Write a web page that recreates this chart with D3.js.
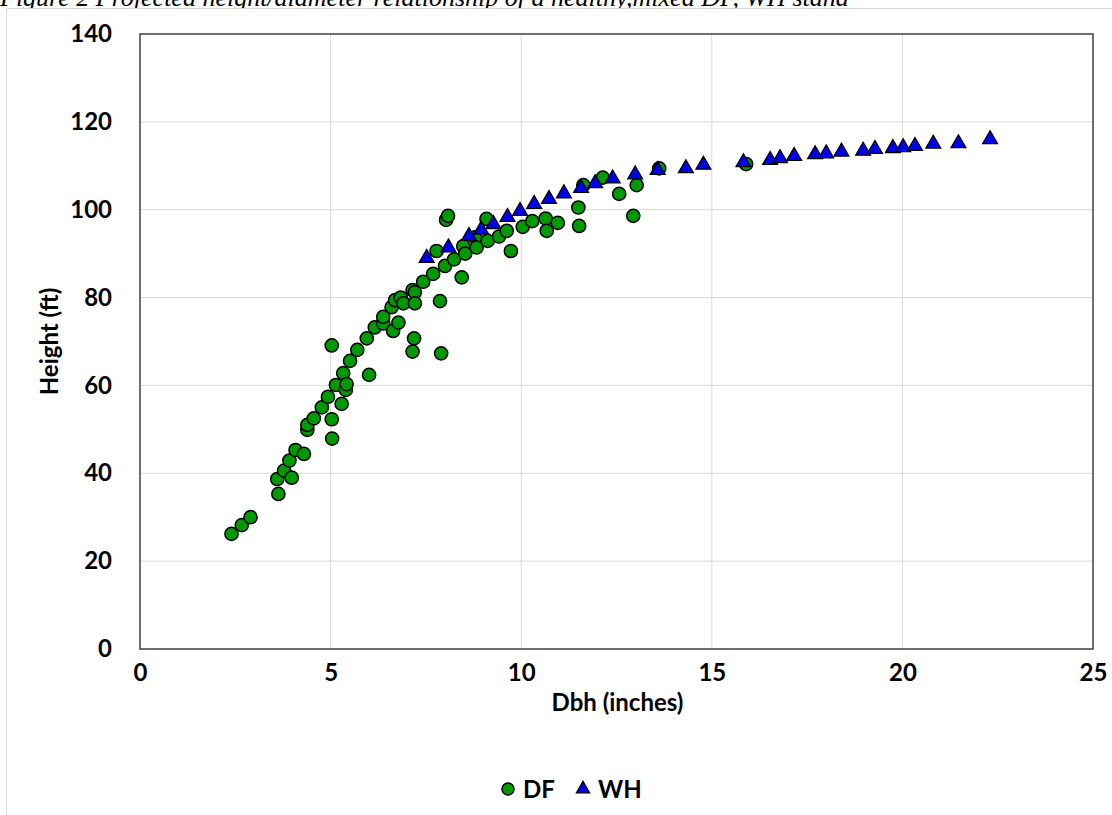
<!DOCTYPE html>
<html>
<head>
<meta charset="utf-8">
<script src="https://cdn.jsdelivr.net/npm/d3@7"></script>
<style>
  html, body { margin: 0; padding: 0; background: #fff; overflow: hidden; }
  svg { display: block; }
</style>
</head>
<body>
<svg id="chart" width="1112" height="815"></svg>
<script>
// Douglas-fir (DF) tree measurements: [dbh inches, height ft]
const dfPoints = [
  [2.40, 26.2], [2.67, 28.2], [2.90, 30.0], [3.63, 35.3], [3.60, 38.7],
  [3.78, 40.6], [3.92, 42.9], [3.98, 39.0], [4.08, 45.3], [4.30, 44.4],
  [4.39, 49.9], [4.39, 51.0], [4.56, 52.5], [4.77, 55.0], [4.93, 57.4],
  [5.03, 52.3], [5.04, 47.9], [5.03, 69.1], [5.14, 60.1], [5.29, 55.8],
  [5.33, 62.8], [5.40, 59.0], [5.42, 60.3], [5.51, 65.6], [5.70, 68.1],
  [5.95, 70.7], [6.01, 62.4], [6.16, 73.2], [6.38, 74.1], [6.38, 75.6],
  [6.60, 77.8], [6.64, 72.4], [6.69, 79.4], [6.78, 74.3], [6.84, 80.0],
  [6.91, 78.7], [7.15, 81.7], [7.21, 81.2], [7.21, 78.7], [7.19, 70.7],
  [7.15, 67.7], [7.43, 83.6], [7.69, 85.4], [7.78, 90.6], [7.87, 79.2],
  [7.90, 67.3], [8.00, 87.2], [8.03, 97.7], [8.08, 98.6], [8.24, 88.7],
  [8.44, 84.6], [8.48, 91.7], [8.53, 90.0], [8.79, 93.7], [8.83, 91.4],
  [9.09, 97.9], [9.12, 92.9], [9.42, 93.9], [9.62, 95.2], [9.73, 90.6],
  [10.04, 96.1], [10.29, 97.4], [10.64, 98.0], [10.67, 95.2], [10.96, 97.0],
  [11.50, 100.5], [11.52, 96.3], [11.63, 105.6], [12.14, 107.3], [12.57, 103.6],
  [12.94, 98.6], [13.03, 105.6], [13.62, 109.4], [15.90, 110.4]
];

// Western hemlock (WH) tree measurements: [dbh inches, height ft]
const whPoints = [
  [7.52, 89.0], [8.09, 91.4], [8.63, 94.0], [8.95, 95.4], [9.27, 96.7],
  [9.64, 98.3], [9.97, 99.7], [10.34, 101.3], [10.73, 102.4], [11.12, 103.7],
  [11.57, 104.9], [11.94, 106.0], [12.40, 107.1], [12.99, 108.0], [13.58, 109.0],
  [14.32, 109.4], [14.78, 110.2], [15.83, 110.8], [16.53, 111.3], [16.79, 111.7],
  [17.16, 112.2], [17.71, 112.6], [18.00, 112.8], [18.40, 113.2], [18.97, 113.4],
  [19.28, 113.8], [19.75, 114.0], [20.02, 114.2], [20.33, 114.5], [20.81, 115.0],
  [21.47, 115.1], [22.30, 116.0]
];

const xTicks = [0, 5, 10, 15, 20, 25];
const yTicks = [0, 20, 40, 60, 80, 100, 120, 140];
const seriesNames = ["DF", "WH"];

const captionText = "Figure 2 Projected height/diameter relationship of a healthy,mixed DF, WH stand";

const svg = d3.select("#chart");
const plot = { left: 140, top: 34, right: 1093, bottom: 649 };

const x = d3.scaleLinear().domain([0, 25]).range([plot.left, plot.right]);
const y = d3.scaleLinear().domain([0, 140]).range([plot.bottom, plot.top]);

const labelFont = "Lato, 'Open Sans', 'DejaVu Sans', sans-serif";
const green = "#009a00";
const blue = "#0000f0";

// Caption above the chart frame (its top runs past the page edge)
svg.append("text")
  .attr("x", 0).attr("y", 6)
  .attr("font-family", "'Liberation Serif', 'Times New Roman', serif")
  .attr("font-style", "italic")
  .attr("font-size", 26)
  .attr("fill", "#000")
  .text(captionText);

// Outer chart frame
svg.append("rect")
  .attr("x", 6.5).attr("y", 8.5)
  .attr("width", 1120).attr("height", 820)
  .attr("fill", "#fff")
  .attr("stroke", "#d9d9d9")
  .attr("stroke-width", 1);

// Gridlines
svg.append("g")
  .selectAll("line")
  .data(xTicks.slice(1, -1))
  .join("line")
  .attr("x1", d => x(d)).attr("x2", d => x(d))
  .attr("y1", plot.top).attr("y2", plot.bottom)
  .attr("stroke", "#d9d9d9").attr("stroke-width", 1);

svg.append("g")
  .selectAll("line")
  .data(yTicks.slice(1, -1))
  .join("line")
  .attr("x1", plot.left).attr("x2", plot.right)
  .attr("y1", d => y(d)).attr("y2", d => y(d))
  .attr("stroke", "#d9d9d9").attr("stroke-width", 1);

// Plot area border
svg.append("rect")
  .attr("x", plot.left).attr("y", plot.top)
  .attr("width", plot.right - plot.left)
  .attr("height", plot.bottom - plot.top)
  .attr("fill", "none")
  .attr("stroke", "#404040")
  .attr("stroke-width", 1.5);

// Axes (labels only; the frame is drawn above)
const xAxis = svg.append("g")
  .attr("transform", `translate(0,${plot.bottom})`)
  .call(d3.axisBottom(x).tickValues(xTicks).tickSize(0).tickPadding(15).tickFormat(d3.format("d")));
const yAxis = svg.append("g")
  .attr("transform", `translate(${plot.left},0)`)
  .call(d3.axisLeft(y).tickValues(yTicks).tickSize(0).tickPadding(28).tickFormat(d3.format("d")));

[xAxis, yAxis].forEach(g => {
  g.select(".domain").remove();
  g.selectAll("text")
    .attr("font-family", labelFont)
    .attr("font-weight", "bold")
    .attr("font-size", 24)
    .attr("fill", "#000");
});

// Axis titles
svg.append("text")
  .attr("x", (plot.left + plot.right) / 2 + 1).attr("y", 711)
  .attr("text-anchor", "middle")
  .attr("font-family", labelFont).attr("font-weight", "bold").attr("font-size", 24)
  .text("Dbh (inches)");

svg.append("text")
  .attr("transform", `translate(58,${(plot.top + plot.bottom) / 2}) rotate(-90)`)
  .attr("text-anchor", "middle")
  .attr("font-family", labelFont).attr("font-weight", "bold").attr("font-size", 24)
  .text("Height (ft)");

// Markers
const triangle = d3.symbol().type(d3.symbolTriangle).size(95);

svg.append("g")
  .selectAll("circle")
  .data(dfPoints)
  .join("circle")
  .attr("cx", d => x(d[0]))
  .attr("cy", d => y(d[1]))
  .attr("r", 6.6)
  .attr("fill", green)
  .attr("stroke", "#000")
  .attr("stroke-width", 1.5);

svg.append("g")
  .selectAll("path")
  .data(whPoints)
  .join("path")
  .attr("d", triangle)
  .attr("transform", d => `translate(${x(d[0])},${y(d[1])})`)
  .attr("fill", blue)
  .attr("stroke", "#000")
  .attr("stroke-width", 1.3);

// Legend
const legend = svg.append("g").attr("transform", "translate(0,789)");
legend.append("circle")
  .attr("cx", 508).attr("cy", 0).attr("r", 6)
  .attr("fill", green).attr("stroke", "#000").attr("stroke-width", 1.5);
legend.append("text")
  .attr("x", 523).attr("y", 9)
  .attr("font-family", labelFont).attr("font-weight", "bold").attr("font-size", 24)
  .text(seriesNames[0]);
legend.append("path")
  .attr("d", d3.symbol().type(d3.symbolTriangle).size(75))
  .attr("transform", "translate(583,0)")
  .attr("fill", blue).attr("stroke", "#000").attr("stroke-width", 1.3);
legend.append("text")
  .attr("x", 598).attr("y", 9)
  .attr("font-family", labelFont).attr("font-weight", "bold").attr("font-size", 24)
  .text(seriesNames[1]);
</script>
</body>
</html>
